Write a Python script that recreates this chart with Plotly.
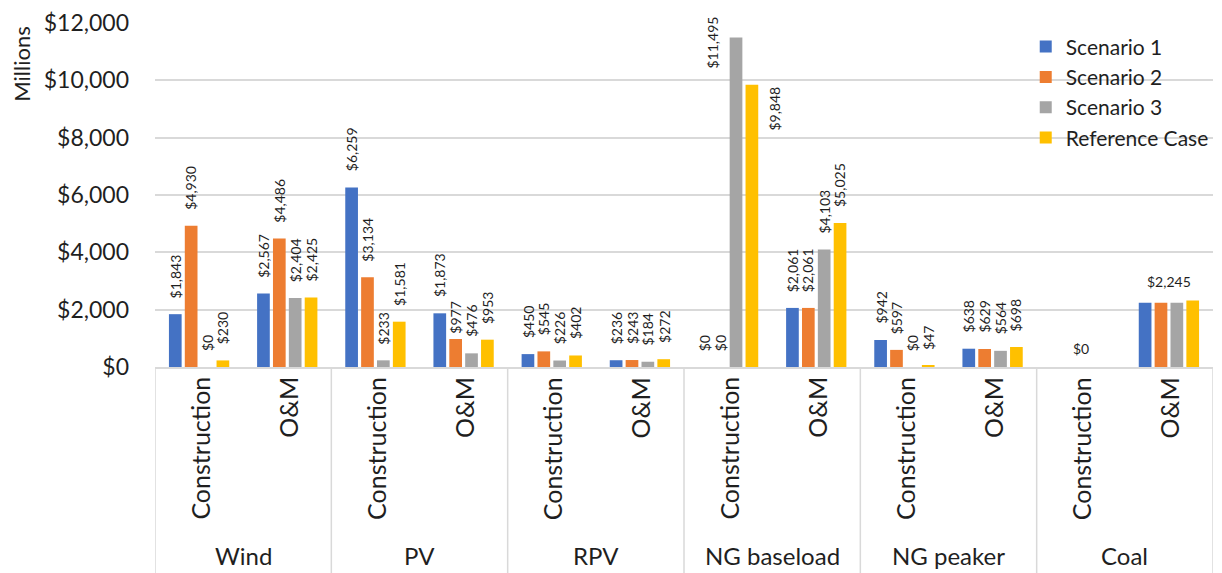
import plotly.graph_objects as go

# Cost categories: technology groups, each split into Construction / O&M
groups = ["Wind", "PV", "RPV", "NG baseload", "NG peaker", "Coal"]
phases = ["Construction", "O&M"]

series_names = ["Scenario 1", "Scenario 2", "Scenario 3", "Reference Case"]
scenario_1 = [1843, 2567, 6259, 1873, 450, 236, 0, 2061, 942, 638, 0, 2245]
scenario_2 = [4930, 4486, 3134, 977, 545, 243, 0, 2061, 597, 629, 0, 2245]
scenario_3 = [0, 2404, 233, 476, 226, 184, 11495, 4103, 0, 564, 0, 2245]
reference_case = [230, 2425, 1581, 953, 402, 272, 9848, 5025, 47, 698, 0, 2320]

y_ticks = [0, 2000, 4000, 6000, 8000, 10000, 12000]
y_tick_text = [f"${v:,}" for v in y_ticks]

colors = ["#4472C4", "#ED7D31", "#A5A5A5", "#FFC000"]
FONT = "Lato"
TEXT = "#1f1f1f"
GRID = "#d9d9d9"

series_values = [scenario_1, scenario_2, scenario_3, reference_case]
n_cat = len(groups) * len(phases)
xpos = list(range(n_cat))
sub_labels = [p for _ in groups for p in phases]

BARGAP = 0.28
BARGROUPGAP = 0.2

W, H = 1222, 573
ML, MR, MT, MB = 155, 8, 20, 206
PW, PH = W - ML - MR, H - MT - MB

fig = go.Figure()
for name, vals, col in zip(series_names, series_values, colors):
    fig.add_trace(go.Bar(
        x=xpos, y=vals, name=name,
        marker=dict(color=col, line=dict(width=0)),
        hoverinfo="x+y+name",
    ))

# Offset of each series' bar centre inside a category slot
group_w = 1 - BARGAP
sub_w = group_w / len(series_names)
offsets = [-group_w / 2 + (i + 0.5) * sub_w for i in range(len(series_names))]

# Label placement tweaks for crowded or tall bars
label_tweaks = {
    (2, 6): dict(xshift=-24, yanchor="middle", yshift=-5),
    (3, 6): dict(xshift=23, yanchor="top", yshift=0),
    (1, 3): dict(yshift=3),
}
# Categories whose bars share a single horizontal value label
shared_label_cats = {10, 11}

annotations = []
for s, vals in enumerate(series_values):
    for c, v in enumerate(vals):
        if c in shared_label_cats:
            continue
        kw = dict(yanchor="bottom", yshift=14, xshift=0)
        kw.update(label_tweaks.get((s, c), {}))
        annotations.append(dict(
            x=c + offsets[s], y=v, xref="x", yref="y",
            text=f"${v:,.0f}", showarrow=False, textangle=-90,
            font=dict(family=FONT, size=14, color=TEXT),
            xanchor="center", **kw,
        ))

for c in sorted(shared_label_cats):
    v = scenario_1[c]
    top = max(sv[c] for sv in series_values)
    annotations.append(dict(
        x=c, y=top, xref="x", yref="y",
        text=f"${v:,.0f}", showarrow=False,
        font=dict(family=FONT, size=14, color=TEXT),
        xanchor="center", yanchor="bottom", yshift=8,
    ))

# Two-level category axis drawn underneath the plot
for c, lab in enumerate(sub_labels):
    annotations.append(dict(
        x=c, y=0, xref="x", yref="paper", text=lab, showarrow=False,
        textangle=-90, xanchor="center", yanchor="top", yshift=-8,
        font=dict(family=FONT, size=25, color=TEXT),
    ))
for g, lab in enumerate(groups):
    annotations.append(dict(
        x=2 * g + 0.5, y=0, xref="x", yref="paper", text=lab, showarrow=False,
        xanchor="center", yanchor="bottom", yshift=-205,
        font=dict(family=FONT, size=24, color=TEXT),
    ))

# Axis title placed by pixel position in the left margin
annotations.append(dict(
    x=(22 - ML) / PW, y=1 - (62 - MT) / PH, xref="paper", yref="paper",
    text="Millions", showarrow=False, textangle=-90,
    xanchor="center", yanchor="middle",
    font=dict(family=FONT, size=22, color=TEXT),
))

shapes = []
for g in range(len(groups) + 1):
    xb = 2 * g - 0.5
    shapes.append(dict(
        type="line", xref="x", yref="paper", x0=xb, x1=xb, y0=0, y1=-0.62,
        line=dict(color=GRID, width=1.5),
    ))

fig.update_layout(
    width=W, height=H,
    margin=dict(l=ML, r=MR, t=MT, b=MB),
    paper_bgcolor="white", plot_bgcolor="white",
    barmode="group", bargap=BARGAP, bargroupgap=BARGROUPGAP,
    font=dict(family=FONT, color=TEXT),
    xaxis=dict(
        range=[-0.5, n_cat - 0.5], showticklabels=False, showgrid=False,
        zeroline=False, showline=True, linecolor=GRID, linewidth=1.5,
        ticks="", fixedrange=True,
    ),
    yaxis=dict(
        range=[0, 12000], tickvals=y_ticks, ticktext=y_tick_text,
        showgrid=True, gridcolor=GRID, gridwidth=1.5, zeroline=False,
        showline=False, ticks="", ticklabelstandoff=25,
        tickfont=dict(family=FONT, size=23, color=TEXT), fixedrange=True,
    ),
    legend=dict(
        x=0.823, y=0.99, xanchor="left", yanchor="top",
        bgcolor="rgba(0,0,0,0)", borderwidth=0,
        font=dict(family=FONT, size=21, color=TEXT),
        tracegroupgap=0, itemclick=False,
    ),
    annotations=annotations, shapes=shapes,
    showlegend=True,
)

fig.write_html("out.html")
